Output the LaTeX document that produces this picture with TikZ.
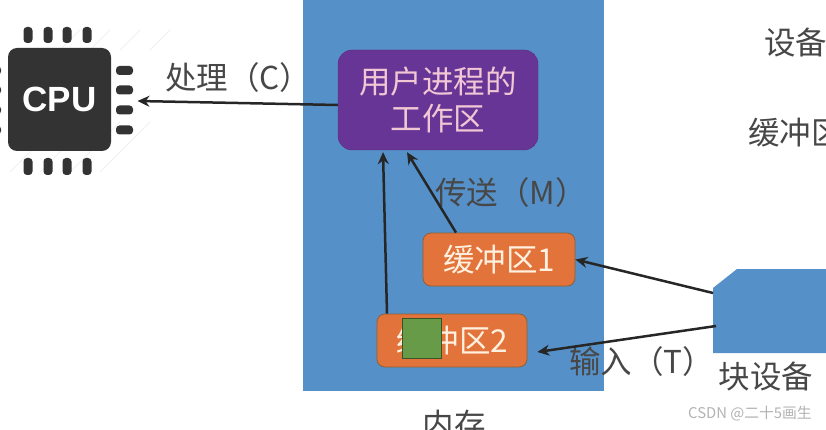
\documentclass[tikz,border=0pt]{standalone}
\usepackage{fontspec}
\setmainfont{Noto Sans CJK SC}
\newfontfamily\latinb{Liberation Sans}
\usetikzlibrary{arrows.meta}
\definecolor{ardent}{HTML}{E2733A}
\definecolor{chipdark}{HTML}{333333}
\definecolor{memblue}{HTML}{5590C8}
\definecolor{purplebox}{HTML}{673595}
\definecolor{greenbox}{HTML}{689B47}
\tikzset{
  cn/.style={font=\fontsize{31.5}{37}\selectfont, text=black!72, inner sep=0pt},
  buffer/.style={draw=black!40!orange!60!gray, line width=0.8pt, fill=ardent, rounded corners=8pt, minimum height=53pt, text=white!88!orange, font=\fontsize{31.5}{37}\selectfont, inner sep=0pt},
  arrowline/.style={draw=black!85, line width=2.5pt, -{Stealth[length=12pt,width=11pt]}},
  pin/.style={fill=chipdark, rounded corners=3.5pt}
}
\begin{document}
\begin{tikzpicture}[x=1pt,y=-1pt]
\useasboundingbox (0,0) rectangle (826,430);
\clip (0,0) rectangle (826,430);
% memory
\node[fill=memblue, minimum width=301pt, minimum height=391pt, inner sep=0pt, anchor=north west] (mem) at (303,0) {};
\node[cn] (memlabel) at (454,425) {内存};
% faint stripes behind the chip
\foreach \a in {0,30,60,90}{
  \draw[black!6, line width=1pt] (10+\a,172) -- (60+\a,122);
  \draw[black!6, line width=1pt] (60+\a,50) -- (80+\a,30);
}
% cpu
\foreach \px in {28,48,67,87}{
  \fill[pin] (\px-4.5,27) rectangle (\px+4.5,43);
  \fill[pin] (\px-4.5,158) rectangle (\px+4.5,175);
}
\foreach \py in {70.5,90,110,130}{
  \fill[pin] (116,\py-4.5) rectangle (133,\py+4.5);
  \fill[pin] (-12,\py-4.5) rectangle (1,\py+4.5);
}
\node[fill=chipdark, rounded corners=9pt, minimum width=103pt, minimum height=103pt, inner sep=0pt, text=white, font=\latinb\bfseries\fontsize{35}{40}\selectfont] (cpu) at (59.5,99.5) {CPU};
% process area
\node[draw=purplebox!85!black, fill=purplebox, rounded corners=14pt, minimum width=200pt, minimum height=100pt, align=center, inner sep=0pt, text=white!78!purple, font=\fontsize{31.5}{37}\selectfont] (proc) at (438,100) {用户进程的\\工作区};
% buffers
\node[buffer, minimum width=152pt] (bufa) at (499,259.5) {缓冲区1};
\node[buffer, minimum width=150pt] (bufb) at (452,340.5) {缓冲区2};
\node[draw=black!45!greenbox, fill=greenbox, line width=0.8pt, minimum width=39pt, minimum height=40pt, inner sep=0pt] (green) at (421.5,338) {};
% block device
\fill[memblue] (713,288) -- (737,269) -- (830,269) -- (830,353) -- (713,353) -- cycle;
\coordinate (devupper) at (713,293);
\coordinate (devlower) at (716,326);
% labels
\node[cn] (devlabel) at (766,377) {块设备};
\node[cn, anchor=west] (devtop) at (764,43) {设备};
\node[cn, anchor=west] (buftop) at (748,133) {缓冲区};
\node[cn, anchor=west] (lblc) at (165,78) {处理（C）};
\node[cn, anchor=west] (lblm) at (435,193) {传送（M）};
\node[cn, anchor=west] (lblt) at (569,362) {输入（T）};
\node[text=black!30, inner sep=0pt, anchor=west, font=\fontsize{14.8}{16}\selectfont] (mark) at (688,414) {CSDN @二十5画生};
% arrows
\draw[arrowline] ([yshift=-5pt]proc.west) -- ([xshift=78pt,yshift=-1.5pt]cpu.center);
\draw[arrowline] ([xshift=-65pt]bufb.north) -- ([xshift=-55pt,yshift=-2pt]proc.south);
\draw[arrowline] ([xshift=-43pt]bufa.north) -- ([xshift=-31pt,yshift=-2pt]proc.south);
\draw[arrowline] (devupper) -- (bufa.east);
\draw[arrowline] (devlower) -- ([xshift=10pt,yshift=-11.5pt]bufb.east);
\end{tikzpicture}
\end{document}
